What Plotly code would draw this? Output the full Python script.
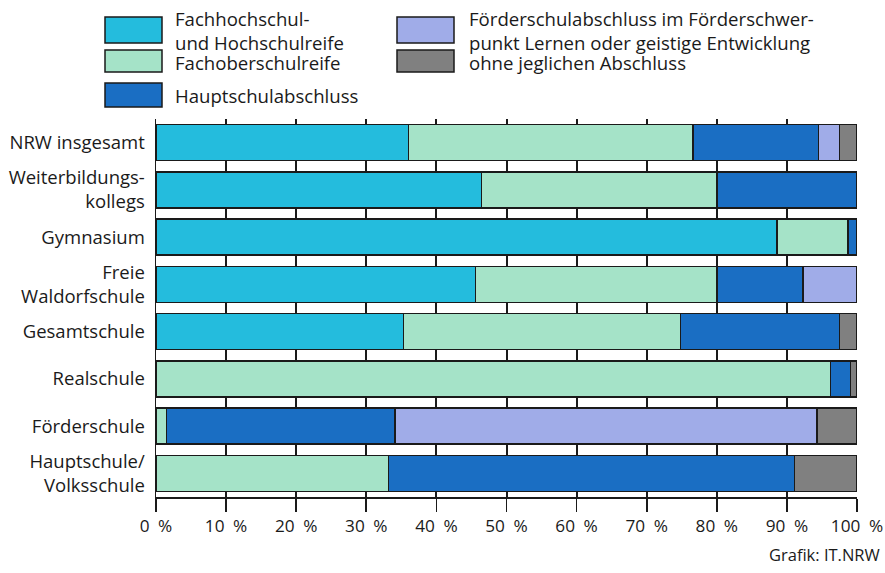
import plotly.graph_objects as go

categories = ["NRW insgesamt", "Weiterbildungs-<br>kollegs", "Gymnasium", "Freie<br>Waldorfschule",
              "Gesamtschule", "Realschule", "Förderschule", "Hauptschule/<br>Volksschule"]

series_names = ["Fachhochschul-<br>und Hochschulreife", "Fachoberschulreife", "Hauptschulabschluss",
                "Förderschulabschluss im Förderschwer-<br>punkt Lernen oder geistige Entwicklung",
                "ohne jeglichen Abschluss"]

hochschulreife = [36.0, 46.4, 88.6, 45.6, 35.3, 0.0, 0.0, 0.0]
fachoberschulreife = [40.6, 33.6, 10.1, 34.4, 39.5, 96.2, 1.5, 33.2]
hauptschulabschluss = [17.9, 20.0, 1.3, 12.3, 22.7, 2.9, 32.6, 57.9]
foerderschulabschluss = [3.0, 0.0, 0.0, 7.7, 0.0, 0.0, 60.2, 0.0]
ohne_abschluss = [2.5, 0.0, 0.0, 0.0, 2.5, 0.9, 5.7, 8.9]

x_ticks = [0, 10, 20, 30, 40, 50, 60, 70, 80, 90, 100]
x_ticklabels = [f"{v}\u2002%" for v in x_ticks]

colors = ["#24BCDD", "#A5E3C8", "#1A6EC3", "#A0ACE8", "#808080"]
series = [hochschulreife, fachoberschulreife, hauptschulabschluss, foerderschulabschluss, ohne_abschluss]

FONT = "Open Sans"
DARK = "#1a1a1a"
W, H = 885, 573
L, R, T, B = 156, 857, 119, 497

fig = go.Figure()
for name, vals, col in zip(series_names, series, colors):
    fig.add_trace(go.Bar(
        y=categories, x=vals, orientation="h", name=name,
        marker=dict(color=col, line=dict(color=DARK, width=1.5)),
        showlegend=False, hoverinfo="skip",
    ))

def px(xp):
    return (xp - L) / (R - L)

def py(yp):
    return (B - yp) / (B - T)

shapes = []
annotations = []

legend_items = [
    (0, 105, 162, 17, 43, 173, 30),
    (1, 105, 162, 50, 72, 173, 62),
    (2, 105, 162, 83, 107, 173, 95),
    (3, 397, 454, 17, 43, 467, 30),
    (4, 397, 454, 50, 72, 467, 62),
]
for idx, x0, x1, y0, y1, tx, ty in legend_items:
    shapes.append(dict(type="rect", xref="paper", yref="paper",
                       x0=px(x0), x1=px(x1), y0=py(y1), y1=py(y0),
                       fillcolor=colors[idx], line=dict(color=DARK, width=1.5)))
    annotations.append(dict(xref="paper", yref="paper", x=px(tx), y=py(ty),
                            xanchor="left", yanchor="middle", align="left",
                            text=series_names[idx], showarrow=False,
                            font=dict(family=FONT, size=18.6, color="#1a1a1a")))

annotations.append(dict(xref="paper", yref="paper", x=px(882), y=py(554),
                        xanchor="right", yanchor="middle", text="Grafik: IT.NRW",
                        showarrow=False, font=dict(family=FONT, size=16.5, color="#1a1a1a")))

fig.update_layout(
    template="none",
    barmode="stack",
    bargap=0.24,
    width=W, height=H,
    autosize=False,
    margin=dict(l=L, r=W - R, t=T, b=H - B, pad=0, autoexpand=False),
    paper_bgcolor="white",
    plot_bgcolor="white",
    font=dict(family=FONT, size=18, color="#1a1a1a"),
    shapes=shapes,
    annotations=annotations,
    xaxis=dict(range=[0, 100], tickvals=x_ticks, ticktext=x_ticklabels,
               showgrid=True, gridcolor=DARK, gridwidth=2,
               showline=True, linecolor=DARK, linewidth=1.5,
               ticks="outside", ticklen=13, tickwidth=1.8, tickcolor=DARK,
               zeroline=False, tickfont=dict(size=17.2), automargin=False),
    yaxis=dict(autorange="reversed", showgrid=False, zeroline=False,
               showline=True, linecolor=DARK, linewidth=1.5,
               ticks="", ticklabelstandoff=6, tickfont=dict(size=18.5), automargin=False),
)

fig.write_html(
    "out.html",
    config={"displayModeBar": False, "staticPlot": True},
    post_script="document.body.style.margin='0';document.body.style.overflow='hidden';document.documentElement.style.overflow='hidden';",
)
